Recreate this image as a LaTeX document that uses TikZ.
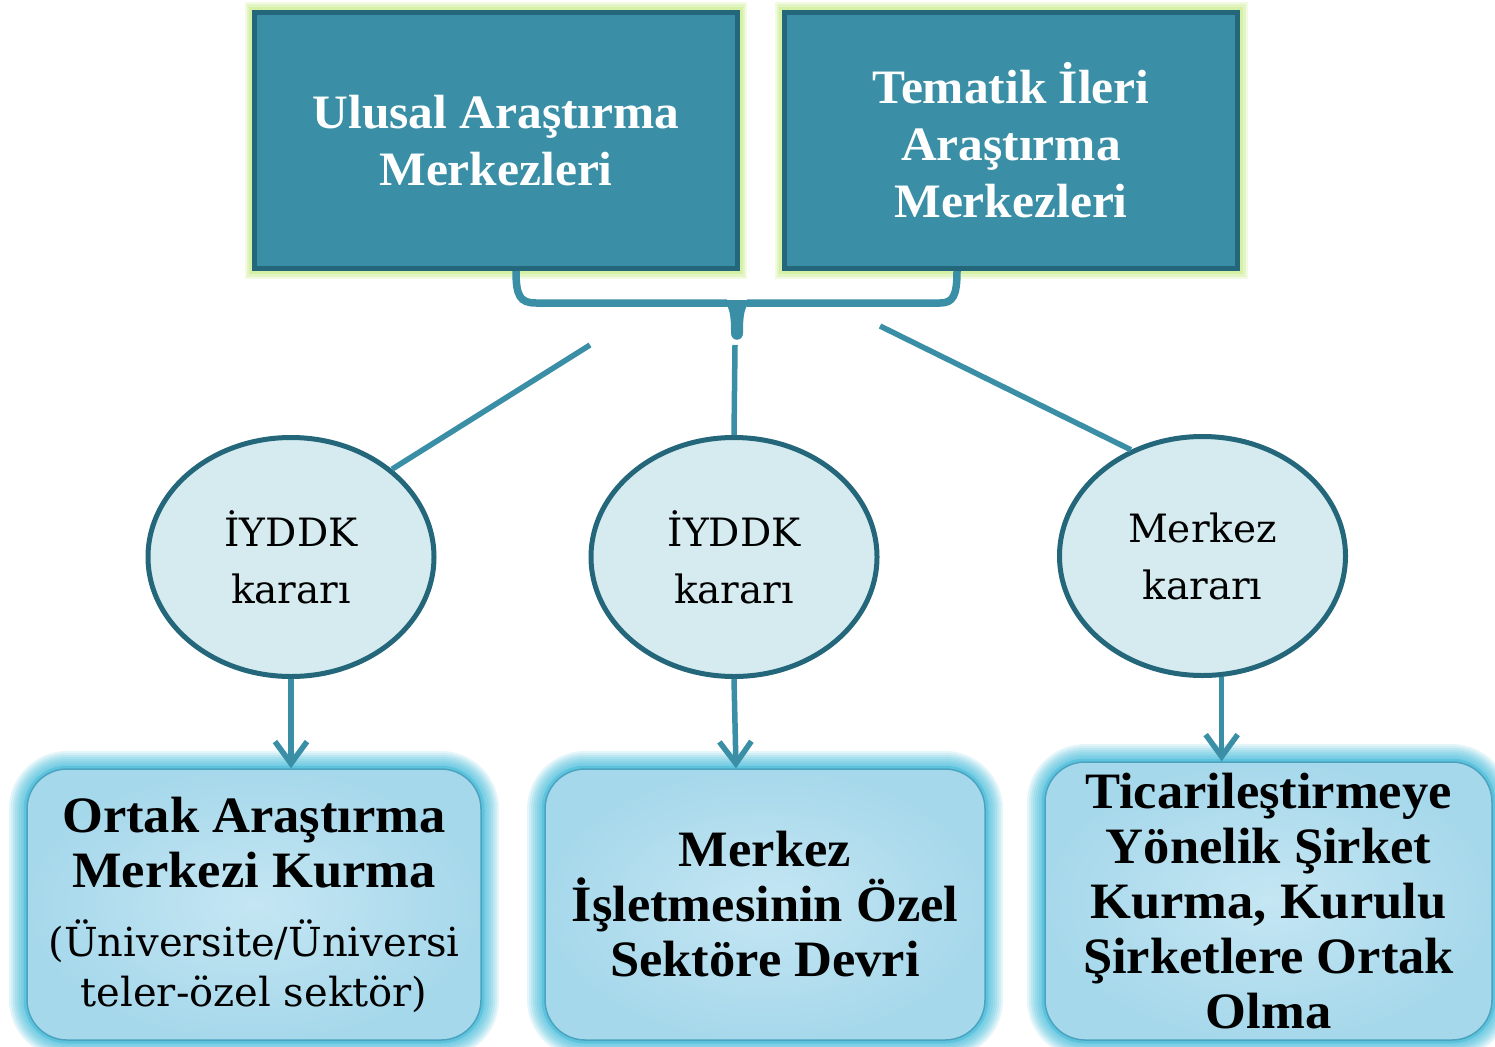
\documentclass[tikz,border=0pt]{standalone}
\usepackage{fontspec}
\setmainfont{DejaVu Serif}
\newfontfamily\bfont[FakeStretch=1.03]{Liberation Serif}
\newfontfamily\rfont{DejaVu Serif}
\usetikzlibrary{arrows.meta,shapes.geometric,calc}
\definecolor{tealA}{RGB}{58,143,166}
\definecolor{tealD}{RGB}{36,103,123}
\definecolor{glowG}{RGB}{214,240,166}
\definecolor{ellF}{RGB}{213,235,240}
\definecolor{glowC}{RGB}{94,196,222}
\definecolor{boxIn}{RGB}{197,230,243}
\definecolor{boxOut}{RGB}{166,216,235}
\definecolor{boxLine}{RGB}{75,163,191}
\tikzset{
  topbox/.style={rectangle, draw=tealD, line width=5pt, fill=tealA, inner sep=0pt,
    minimum height=256pt, align=center, text=white,
    font=\bfont\bfseries\fontsize{48}{57}\selectfont,
    preaction={draw=glowG, draw opacity=.3, line width=20pt},
    preaction={draw=glowG, draw opacity=.5, line width=16pt},
    preaction={draw=glowG, line width=11pt}},
  ell/.style={ellipse, draw=tealD, line width=5pt, fill=ellF, inner sep=0pt,
    minimum width=286pt, minimum height=239pt, align=center,
    font=\rfont\fontsize{39}{57}\selectfont},
  botbox/.style={rectangle, rounded corners=40pt, draw=boxLine, line width=1.5pt,
    inner color=boxIn, outer color=boxOut, inner sep=0pt, align=center,
    font=\bfont\bfseries\fontsize{51}{55}\selectfont,
    preaction={draw=glowC, draw opacity=.16, line width=36pt},
    preaction={draw=glowC, draw opacity=.16, line width=32pt},
    preaction={draw=glowC, draw opacity=.18, line width=28pt},
    preaction={draw=glowC, draw opacity=.2, line width=24pt},
    preaction={draw=glowC, draw opacity=.22, line width=20pt},
    preaction={draw=glowC, draw opacity=.25, line width=16pt},
    preaction={draw=glowC, draw opacity=.3, line width=12pt},
    preaction={draw=glowC, line width=7pt}},
  conn/.style={draw=tealA, line width=5.5pt},
  arr/.style={conn, -{Straight Barb[length=22pt,width=32pt]}},
  brace/.style={draw=tealA, line width=7.5pt}
}
\begin{document}
\begin{tikzpicture}[x=1pt,y=-1pt]
\useasboundingbox (0,0) rectangle (1495,1046);
% top boxes
\node[topbox, minimum width=482.5pt] (t1) at (496,140.5) {Ulusal Araştırma\\Merkezleri};
\node[topbox, minimum width=453pt] (t2) at (1011,140.5) {Tematik İleri\\Araştırma\\Merkezleri};
% bottom boxes
\node[botbox, minimum width=454pt, minimum height=271pt] (b1) at (254,904.5)
  {Ortak Araştırma\\Merkezi Kurma\\[14pt]{\rfont\mdseries\fontsize{40}{50}\selectfont (Üniversite/Üniversi}\\[-5pt]{\rfont\mdseries\fontsize{40}{50}\selectfont teler-özel sektör)}};
\node[botbox, minimum width=440pt, minimum height=271pt] (b2) at (765,904.5)
  {Merkez\\İşletmesinin Özel\\Sektöre Devri};
\node[botbox, minimum width=447pt, minimum height=278pt] (b3) at (1268.5,901)
  {\fontsize{51}{55}\selectfont\hspace*{-4pt}Ticarileştirmeye\hspace*{-4pt}\\Yönelik Şirket\\Kurma, Kurulu\\Şirketlere Ortak\\Olma};
% brace
\draw[brace] ($(t1.south)+(20,0)$) .. controls (516,296) and (520,303) .. (536,303) -- (727,303);
\draw[brace] ($(t2.south)+(-54,0)$) .. controls (957,296) and (953,303) .. (940,303) -- (747,303);
\fill[tealA] (721,300) .. controls (730,305) and (731,315) .. (731,333)
  .. controls (731,342) and (743,342) .. (743,333)
  .. controls (743,315) and (744,305) .. (753,300) -- cycle;
\coordinate (c1) at (590,345);
\coordinate (c2) at (735,345);
\coordinate (c3) at (880,326);
% ellipses
\node[ell] (e1) at (291,557) {İYDDK\\kararı};
\node[ell] (e2) at (734,557) {İYDDK\\kararı};
\node[ell] (e3) at (1202.5,556) {Merkez\\kararı};
% connectors
\draw[conn] (c1) -- (e1.41);
\draw[conn] (c2) -- (e2.north);
\draw[conn] (c3) -- (e3.124);
\draw[arr] (e1.south) -- (e1.south |- b1.north);
\draw[arr] (e2.south) -- ($(e2.south |- b2.north)+(2,0)$);
\draw[arr] (e3.-81) -- (e3.-81 |- b3.north);
\end{tikzpicture}
\end{document}
